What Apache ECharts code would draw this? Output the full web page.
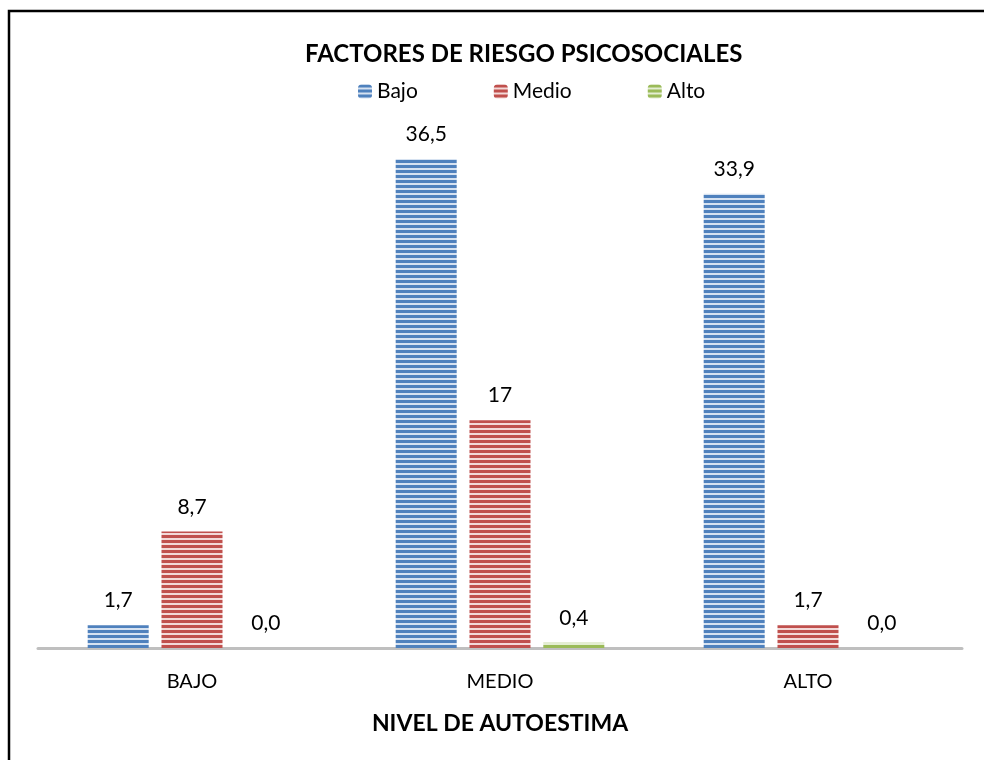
<!DOCTYPE html>
<html>
<head>
<meta charset="utf-8">
<script src="https://cdn.jsdelivr.net/npm/echarts@6/dist/echarts.min.js"></script>
<style>
  html, body { margin: 0; padding: 0; background: #fff; }
  #chart { width: 984px; height: 760px; }
</style>
</head>
<body>
<div id="chart"></div>
<script>
// Self-esteem levels on the x axis
const categories = ['BAJO', 'MEDIO', 'ALTO'];

// Psychosocial risk series (percent)
const seriesNames = ['Bajo', 'Medio', 'Alto'];
const bajoValues = [1.7, 36.5, 33.9];
const medioValues = [8.7, 17, 1.7];
const altoValues = [0.0, 0.4, 0.0];

// Value labels as printed above the bars
const bajoLabels = ['1,7', '36,5', '33,9'];
const medioLabels = ['8,7', '17', '1,7'];
const altoLabels = ['0,0', '0,4', '0,0'];

const FONT = 'Lato, "Open Sans", sans-serif';

// Horizontal stripe fill used by every bar
function stripes(dark, light) {
  const c = document.createElement('canvas');
  c.width = 8; c.height = 5;
  const g = c.getContext('2d');
  g.fillStyle = light; g.fillRect(0, 0, 8, 5);
  g.fillStyle = dark; g.fillRect(0, 0, 8, 3);
  return { image: c, repeat: 'repeat' };
}

const fills = [
  stripes('#4f81bd', '#d6e2f1'),
  stripes('#c0504d', '#f3d9d8'),
  stripes('#9bbb59', '#e4eed3')
];
const values = [bajoValues, medioValues, altoValues];
const labels = [bajoLabels, medioLabels, altoLabels];

const chart = echarts.init(document.getElementById('chart'));
chart.setOption({
  backgroundColor: '#fff',
  animation: false,
  title: {
    text: 'FACTORES DE RIESGO PSICOSOCIALES',
    left: 300, top: 37,
    textStyle: { fontFamily: FONT, fontSize: 24, fontWeight: 'bold', color: '#000' }
  },
  legend: {
    top: 76, left: 353,
    itemWidth: 14, itemHeight: 14, itemGap: 76,
    textStyle: { fontFamily: FONT, fontSize: 21, color: '#000' },
    data: seriesNames
  },
  grid: { left: 38, right: 22, top: 112, bottom: 112 },
  xAxis: {
    type: 'category',
    data: categories,
    name: 'NIVEL DE AUTOESTIMA',
    nameLocation: 'middle',
    nameGap: 64,
    nameTextStyle: { fontFamily: FONT, fontSize: 23, fontWeight: 'bold', color: '#000' },
    axisLine: { lineStyle: { color: '#bfbfbf', width: 3 } },
    axisTick: { show: false },
    axisLabel: { fontFamily: FONT, fontSize: 20, color: '#000', margin: 24 }
  },
  yAxis: {
    type: 'value', min: 0, max: 40,
    show: false, splitLine: { show: false }
  },
  graphic: [{
    type: 'rect', silent: true, z: 100,
    shape: { x: 9, y: 11, width: 1000, height: 800 },
    style: { fill: 'none', stroke: '#000', lineWidth: 2.5 }
  }],
  series: seriesNames.map((name, i) => ({
    name: name,
    type: 'bar',
    barWidth: 61,
    barGap: '21%',
    itemStyle: { color: fills[i] },
    label: {
      show: true, position: 'top', distance: 14,
      fontFamily: FONT, fontSize: 21, color: '#000',
      formatter: p => labels[i][p.dataIndex]
    },
    data: values[i]
  }))
});
</script>
</body>
</html>
